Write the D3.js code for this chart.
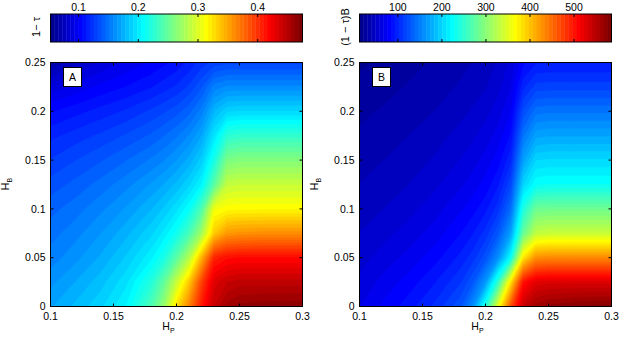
<!DOCTYPE html>
<html>
<head>
<meta charset="utf-8">
<script src="https://cdn.jsdelivr.net/npm/d3@7"></script>
<style>
body { margin: 0; background: #fff; }
text { font-family: "Liberation Sans", Arial, sans-serif; font-size: 10.5px; fill: #000; }
</style>
</head>
<body>
<svg id="chart" width="629" height="341"></svg>
<script>
// grid columns (H_P) and rows (H_B) the values were read at
var hpValues = [0.10, 0.12, 0.14, 0.16, 0.18, 0.19, 0.20, 0.21, 0.22, 0.23, 0.24, 0.25, 0.27, 0.30];
var hbValues = [0, 0.025, 0.05, 0.075, 0.1, 0.125, 0.15, 0.175, 0.2, 0.225, 0.25];

// panel A: 1 - tau, one row per H_B value
var gridA = [
    [0.171, 0.180, 0.190, 0.205, 0.240, 0.270, 0.325, 0.365, 0.410, 0.442, 0.458, 0.464, 0.466, 0.467],
    [0.163, 0.172, 0.182, 0.196, 0.222, 0.248, 0.290, 0.335, 0.392, 0.432, 0.442, 0.445, 0.445, 0.445],
    [0.155, 0.163, 0.173, 0.186, 0.203, 0.218, 0.245, 0.282, 0.345, 0.405, 0.414, 0.416, 0.416, 0.416],
    [0.149, 0.156, 0.165, 0.176, 0.190, 0.200, 0.214, 0.237, 0.275, 0.335, 0.355, 0.358, 0.360, 0.360],
    [0.143, 0.149, 0.157, 0.166, 0.178, 0.186, 0.196, 0.210, 0.240, 0.308, 0.314, 0.315, 0.315, 0.315],
    [0.135, 0.141, 0.148, 0.156, 0.166, 0.172, 0.180, 0.190, 0.205, 0.245, 0.288, 0.290, 0.290, 0.290],
    [0.126, 0.132, 0.138, 0.145, 0.153, 0.158, 0.165, 0.174, 0.188, 0.218, 0.258, 0.262, 0.262, 0.262],
    [0.117, 0.122, 0.127, 0.133, 0.140, 0.145, 0.151, 0.159, 0.172, 0.198, 0.225, 0.228, 0.228, 0.228],
    [0.105, 0.110, 0.115, 0.120, 0.127, 0.131, 0.136, 0.143, 0.155, 0.178, 0.190, 0.192, 0.192, 0.192],
    [0.088, 0.095, 0.101, 0.106, 0.112, 0.116, 0.120, 0.127, 0.138, 0.155, 0.160, 0.160, 0.160, 0.160],
    [0.066, 0.078, 0.087, 0.094, 0.100, 0.104, 0.108, 0.114, 0.122, 0.128, 0.130, 0.130, 0.130, 0.130]
];

// panel B: (1 - tau) B
var gridB = [
    [66, 78, 90, 105, 127, 160, 240, 355, 465, 540, 562, 570, 576, 580],
    [60, 70, 80, 93, 110, 128, 165, 250, 380, 500, 525, 528, 528, 528],
    [54, 62, 70, 81, 96, 107, 125, 160, 225, 380, 428, 432, 432, 432],
    [49, 55, 62, 71, 84, 93, 106, 128, 170, 280, 330, 335, 335, 335],
    [44, 49, 55, 63, 74, 81, 91, 107, 140, 240, 283, 285, 285, 285],
    [40, 44, 49, 56, 65, 71, 79, 92, 118, 200, 226, 228, 228, 228],
    [36, 40, 44, 50, 58, 63, 70, 80, 100, 170, 200, 202, 202, 202],
    [32, 36, 40, 45, 52, 56, 62, 70, 86, 145, 171, 173, 173, 173],
    [29, 32, 36, 40, 46, 50, 55, 62, 75, 122, 143, 145, 145, 145],
    [25, 28, 32, 36, 41, 44, 48, 55, 66, 100, 115, 116, 116, 116],
    [20, 24, 28, 32, 37, 40, 44, 50, 60, 82, 92, 93, 93, 93]
];

var xTicks = [0.1, 0.15, 0.2, 0.25, 0.3];
var yTicks = [0, 0.05, 0.1, 0.15, 0.2, 0.25];
var cbTicksA = [0.1, 0.2, 0.3, 0.4];
var cbTicksB = [100, 200, 300, 400, 500];
var cbDomainA = [0.053, 0.475];
var cbDomainB = [13, 585];

var svg = d3.select("#chart");
var nLevels = 64;

var jet = d3.scaleLinear()
    .domain([0, 0.111, 0.365, 0.619, 0.873, 1])
    .range(["#00008f", "#0000ff", "#00ffff", "#ffff00", "#ff0000", "#800000"]);

function fmt(v) { return String(v); }

function drawPanel(opt) {
    var x0 = opt.left, x1 = opt.left + 252,
        y0 = 62.5, y1 = 306.5;

    var x = d3.scaleLinear().domain([0.1, 0.3]).range([x0, x1]);
    var y = d3.scaleLinear().domain([0, 0.25]).range([y1, y0]);

    // grid index -> data value (grid is not uniform in H_P)
    var colIdx = d3.scaleLinear().domain(d3.range(hpValues.length)).range(hpValues).clamp(true);
    var rowIdx = d3.scaleLinear().domain(d3.range(hbValues.length)).range(hbValues).clamp(true);

    var lo = opt.domain[0], hi = opt.domain[1];
    var step = (hi - lo) / nLevels;
    var thresholds = d3.range(nLevels).map(function(i) { return lo + i * step; });

    var flat = [];
    opt.grid.forEach(function(row) { row.forEach(function(v) { flat.push(v); }); });

    var contours = d3.contours()
        .size([hpValues.length, hbValues.length])
        .thresholds(thresholds)(flat);

    var path = d3.geoPath(d3.geoTransform({
        point: function(px, py) {
            this.stream.point(x(colIdx(px - 0.5)), y(rowIdx(py - 0.5)));
        }
    }));

    var clipId = "clip" + opt.name;
    svg.append("clipPath").attr("id", clipId)
        .append("rect")
        .attr("x", x0).attr("y", y0)
        .attr("width", x1 - x0).attr("height", y1 - y0);

    svg.append("g")
        .attr("clip-path", "url(#" + clipId + ")")
        .selectAll("path")
        .data(contours)
        .enter().append("path")
        .attr("d", path)
        .attr("fill", function(d, i) { return jet(i / (nLevels - 1)); })
        .attr("stroke", function(d, i) { return jet(i / (nLevels - 1)); })
        .attr("stroke-width", 0.3);

    // frame and inward ticks
    svg.append("rect")
        .attr("x", x0).attr("y", y0)
        .attr("width", x1 - x0).attr("height", y1 - y0)
        .attr("fill", "none").attr("stroke", "#000").attr("stroke-width", 1);

    var ticks = svg.append("g").attr("stroke", "#000").attr("stroke-width", 1);
    xTicks.forEach(function(t) {
        ticks.append("line").attr("x1", x(t)).attr("x2", x(t)).attr("y1", y1).attr("y2", y1 - 3);
        ticks.append("line").attr("x1", x(t)).attr("x2", x(t)).attr("y1", y0).attr("y2", y0 + 3);
    });
    yTicks.forEach(function(t) {
        ticks.append("line").attr("x1", x0).attr("x2", x0 + 3).attr("y1", y(t)).attr("y2", y(t));
        ticks.append("line").attr("x1", x1).attr("x2", x1 - 3).attr("y1", y(t)).attr("y2", y(t));
    });

    svg.append("g").selectAll("text")
        .data(xTicks)
        .enter().append("text")
        .attr("x", function(d) { return x(d); })
        .attr("y", 320)
        .attr("text-anchor", "middle")
        .text(fmt);

    svg.append("g").selectAll("text")
        .data(yTicks)
        .enter().append("text")
        .attr("x", x0 - 5)
        .attr("y", function(d) { return y(d); })
        .attr("dy", "0.35em")
        .attr("text-anchor", "end")
        .text(fmt);

    // axis labels
    var xl = svg.append("text")
        .attr("x", (x0 + x1) / 2 - 8)
        .attr("y", 329.5)
        .attr("text-anchor", "middle");
    xl.append("tspan").text("H");
    xl.append("tspan").attr("font-size", "7px").attr("dy", 3).text("P");

    var yl = svg.append("text")
        .attr("transform", "translate(" + (x0 - 41.5) + ",184) rotate(-90)")
        .attr("text-anchor", "middle");
    yl.append("tspan").text("H");
    yl.append("tspan").attr("font-size", "7px").attr("dy", 3).text("B");

    // panel letter
    svg.append("rect")
        .attr("x", x0 + 13).attr("y", 67.5)
        .attr("width", 18).attr("height", 19)
        .attr("fill", "#fff").attr("stroke", "#000");
    svg.append("text")
        .attr("x", x0 + 22).attr("y", 77)
        .attr("dy", "0.35em")
        .attr("text-anchor", "middle")
        .text(opt.name);

    // colour bar
    var cb = d3.scaleLinear().domain(opt.domain).range([x0, x1]);
    var cy0 = 14, cy1 = 42;

    svg.append("g").selectAll("rect")
        .data(thresholds)
        .enter().append("rect")
        .attr("x", function(d) { return cb(d); })
        .attr("y", cy0)
        .attr("width", cb(lo + step) - cb(lo) + 0.4)
        .attr("height", cy1 - cy0)
        .attr("fill", function(d, i) { return jet(i / (nLevels - 1)); });

    svg.append("rect")
        .attr("x", x0).attr("y", cy0)
        .attr("width", x1 - x0).attr("height", cy1 - cy0)
        .attr("fill", "none").attr("stroke", "#000");

    var cbt = svg.append("g").attr("stroke", "#000");
    opt.cbTicks.forEach(function(t) {
        cbt.append("line").attr("x1", cb(t)).attr("x2", cb(t)).attr("y1", cy1).attr("y2", cy1 - 3);
        cbt.append("line").attr("x1", cb(t)).attr("x2", cb(t)).attr("y1", cy0).attr("y2", cy0 + 3);
    });

    svg.append("g").selectAll("text")
        .data(opt.cbTicks)
        .enter().append("text")
        .attr("x", function(d) { return cb(d); })
        .attr("y", 11)
        .attr("text-anchor", "middle")
        .text(fmt);

    svg.append("text")
        .attr("transform", "translate(" + (x0 - 11) + ",27) rotate(-90)")
        .attr("text-anchor", "middle")
        .style("font-family", "'Liberation Sans', Arial, sans-serif")
        .style("font-size", "11px")
        .text(opt.cbLabel);
}

drawPanel({ name: "A", left: 50.5, grid: gridA, domain: cbDomainA, cbTicks: cbTicksA, cbLabel: "1\u2212 \u03c4" });
drawPanel({ name: "B", left: 359.5, grid: gridB, domain: cbDomainB, cbTicks: cbTicksB, cbLabel: "(1 \u2212 \u03c4)B" });
</script>
</body>
</html>
